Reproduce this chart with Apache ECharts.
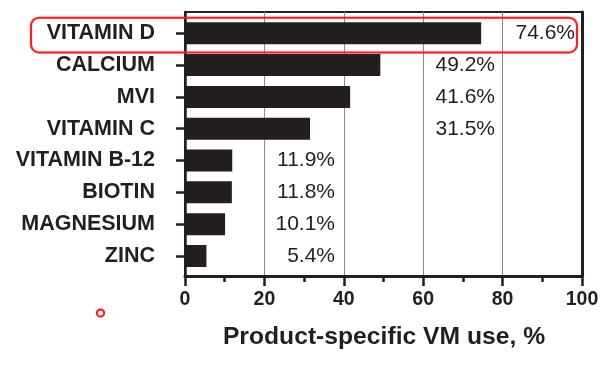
<!DOCTYPE html>
<html><head><meta charset="utf-8">
<script src="https://cdn.jsdelivr.net/npm/echarts@6/dist/echarts.min.js"></script>
<style>html,body{margin:0;padding:0;background:#fff}#c{width:610px;height:367px}</style>
</head><body><div id="c"></div>
<script>
var categories = ['VITAMIN D','CALCIUM','MVI','VITAMIN C','VITAMIN B-12','BIOTIN','MAGNESIUM','ZINC'];
var values = [74.6, 49.2, 41.6, 31.5, 11.9, 11.8, 10.1, 5.4];
var xTicks = [0, 20, 40, 60, 80, 100];
var axisTitle = 'Product-specific VM use, %';

var INK = '#231f20';
var FONT = 'Liberation Sans, Arial, Helvetica, sans-serif';
var plotLeft = 185, plotRight = 582;

function labelRightPx(v){ return v >= 70 ? 575 : (v >= 30 ? 495 : 335); }

var chart = echarts.init(document.getElementById('c'), null, {renderer:'canvas'});
chart.setOption({
  animation:false,
  backgroundColor:'#fff',
  grid:[
    {left:plotLeft, right:610-plotRight, top:12, height:264, show:true, borderColor:INK, borderWidth:2, backgroundColor:'transparent'},
    {left:plotLeft, right:610-plotRight, top:17.4, height:254.5}
  ],
  xAxis:[
    {gridIndex:0, type:'value', min:xTicks[0], max:xTicks[xTicks.length-1], interval:20,
     axisLine:{show:true, onZero:false, lineStyle:{color:INK, width:3}},
     axisTick:{show:true, inside:false, length:10, lineStyle:{color:INK, width:2.5}},
     minorTick:{show:true, splitNumber:2, length:6, lineStyle:{color:INK, width:2.5}},
     splitLine:{show:true, lineStyle:{color:'#8a8a8a', width:1}},
     axisLabel:{color:INK, fontFamily:FONT, fontWeight:'bold', fontSize:19.5, margin:14}},
    {gridIndex:1, type:'value', min:0, max:100, show:false}
  ],
  yAxis:[
    {gridIndex:0, type:'value', min:0, max:1, axisLine:{show:true, onZero:false, lineStyle:{color:INK, width:2.5}},
     axisTick:{show:false}, axisLabel:{show:false}, splitLine:{show:false}},
    {gridIndex:0, type:'value', position:'right', min:0, max:1, axisLine:{show:true, onZero:false, lineStyle:{color:INK, width:3}},
     axisTick:{show:false}, axisLabel:{show:false}, splitLine:{show:false}},
    {gridIndex:1, type:'category', data:categories, inverse:true,
     axisLine:{show:false},
     axisTick:{show:true, alignWithLabel:true, length:9, lineStyle:{color:INK, width:2.5}},
     axisLabel:{color:INK, fontFamily:FONT, fontWeight:'bold', fontSize:21.5, margin:30},
     splitLine:{show:false}}
  ],
  series:[{
    type:'bar', xAxisIndex:1, yAxisIndex:2,
    barWidth:22,
    itemStyle:{color:INK},
    data: values.map(function(v){
      return {value:v, label:{show:true, position:[labelRightPx(v)-plotLeft, '50%'], align:'right', verticalAlign:'middle',
        formatter:function(p){ return p.value.toFixed(1)+'%'; },
        color:INK, fontFamily:FONT, fontSize:21}};
    })
  }],
  graphic:[
    {type:'rect', shape:{x:31, y:17.7, width:546, height:34.8, r:8},
     style:{fill:'none', stroke:'#e3262e', lineWidth:2, shadowBlur:3, shadowColor:'rgba(227,38,46,0.35)'}, z:100},
    {type:'circle', shape:{cx:100.5, cy:313, r:3.6},
     style:{fill:'none', stroke:'#e3262e', lineWidth:2, shadowBlur:2, shadowColor:'rgba(227,38,46,0.35)'}, z:100},
    {type:'text', x:384, y:337.5, scaleX:1.05,
     style:{text:axisTitle, fill:INK, font:'bold 23.5px '+FONT, textAlign:'center', textVerticalAlign:'middle'}}
  ]
});
</script></body></html>
